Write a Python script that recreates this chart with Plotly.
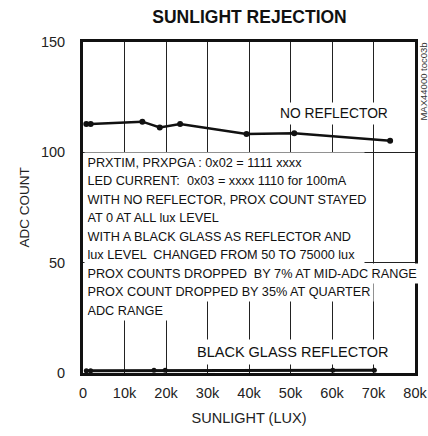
import plotly.graph_objects as go

# ---- data ----
no_reflector_lux = [800, 1850, 14300, 18500, 23400, 39400, 50900, 74000]
no_reflector_adc = [112.8, 112.8, 113.9, 111.3, 112.8, 108.3, 108.6, 105.3]

black_glass_lux = [800, 1850, 17100, 19800, 60200, 70200]
black_glass_adc = [1.0, 1.0, 1.2, 1.2, 1.2, 1.2]

x_tick_vals = [0, 10000, 20000, 30000, 40000, 50000, 60000, 70000, 80000]
x_tick_text = ["0", "10k", "20k", "30k", "40k", "50k", "60k", "70k", "80k"]
y_tick_vals = [0, 50, 100, 150]
y_tick_text = ["0", "50", "100", "150"]

note_lines = [
    "PRXTIM, PRXPGA : 0x02 = 1111 xxxx",
    "LED CURRENT:  0x03 = xxxx 1110 for 100mA",
    "WITH NO REFLECTOR, PROX COUNT STAYED",
    "AT 0 AT ALL lux LEVEL",
    "WITH A BLACK GLASS AS REFLECTOR AND",
    "lux LEVEL  CHANGED FROM 50 TO 75000 lux",
    "PROX COUNTS DROPPED  BY 7% AT MID-ADC RANGE",
    "PROX COUNT DROPPED BY 35% AT QUARTER",
    "ADC RANGE",
]
# background box widths (px) of the note lines; None = fit text
note_box_widths = [274, 274, None, 274, 274, 274, None, None, 80]

FONT = "Liberation Sans, Arial, sans-serif"

fig = go.Figure()
fig.add_trace(go.Scatter(
    x=no_reflector_lux, y=no_reflector_adc, mode="lines+markers",
    line=dict(color="#111", width=2.5), marker=dict(color="#111", size=6),
    showlegend=False, cliponaxis=False, hoverinfo="skip"))
fig.add_trace(go.Scatter(
    x=black_glass_lux, y=black_glass_adc, mode="lines+markers",
    line=dict(color="#111", width=3), marker=dict(color="#111", size=5),
    showlegend=False, cliponaxis=False, hoverinfo="skip"))

annotations = []
y0 = 95.6
dy = 8.4
for i, (t, w) in enumerate(zip(note_lines, note_box_widths)):
    a = dict(x=0, y=y0 - i * dy, xref="x", yref="y", text=t, showarrow=False,
             xanchor="left", yanchor="middle", align="left",
             font=dict(family=FONT, size=12.7, color="#111"),
             bgcolor="white", borderpad=2.5, xshift=1)
    if w is not None:
        a["width"] = w
    annotations.append(a)

annotations.append(dict(x=60500, y=117.6, xref="x", yref="y", text="NO REFLECTOR",
                        showarrow=False, font=dict(family=FONT, size=13.8, color="#111"),
                        bgcolor="white", borderpad=3))
annotations.append(dict(x=50600, y=9.7, xref="x", yref="y", text="BLACK GLASS REFLECTOR",
                        showarrow=False, font=dict(family=FONT, size=14.5, color="#111"),
                        bgcolor="white", borderpad=4))
annotations.append(dict(x=1.0, y=0.879, xref="paper", yref="paper", text="MAX44000 toc03b",
                        showarrow=False, textangle=-90, xanchor="left", yanchor="middle",
                        xshift=1, font=dict(family=FONT, size=9.5, color="#333")))

fig.update_layout(
    width=428, height=436,
    margin=dict(l=83, r=13, t=42, b=63, autoexpand=False),
    paper_bgcolor="white", plot_bgcolor="white",
    title=dict(text="<b>SUNLIGHT REJECTION</b>", x=0.583, xanchor="center",
               y=0.962, yanchor="middle",
               font=dict(family=FONT, size=17.5, color="#111")),
    annotations=annotations,
    font=dict(family=FONT, color="#111"),
    hovermode=False,
)
fig.update_xaxes(range=[0, 80000], tickvals=x_tick_vals, ticktext=x_tick_text,
                 showgrid=True, gridcolor="#222", gridwidth=1,
                 showline=True, linecolor="#111", linewidth=3, mirror=True,
                 ticks="", ticklabelstandoff=5, zeroline=False, automargin=False,
                 tickfont=dict(family=FONT, size=14.5, color="#222"),
                 title=dict(text="SUNLIGHT (LUX)", standoff=13,
                            font=dict(family=FONT, size=14.5, color="#222")))
fig.update_yaxes(range=[0, 150], tickvals=y_tick_vals, ticktext=y_tick_text,
                 showgrid=True, gridcolor="#222", gridwidth=1,
                 showline=True, linecolor="#111", linewidth=3, mirror=True,
                 ticks="", ticklabelstandoff=12, zeroline=False, automargin=False,
                 tickfont=dict(family=FONT, size=14.5, color="#222"),
                 title=dict(text="ADC COUNT", standoff=9,
                            font=dict(family=FONT, size=13.5, color="#222")))

fig.write_html("out.html", config={"displayModeBar": False},
               post_script="document.body.style.margin='0';document.body.style.padding='0';")
